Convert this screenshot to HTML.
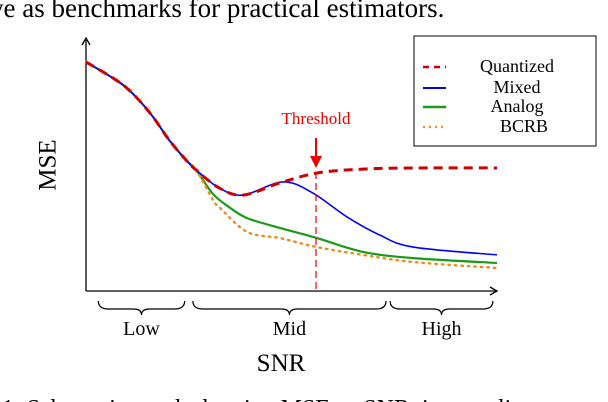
<!DOCTYPE html>
<html><head><meta charset="utf-8"><style>
html,body{margin:0;padding:0;background:#fff;}
svg{display:block;font-family:"Liberation Serif",serif;}
</style></head><body>
<svg id="chart" width="608" height="402" viewBox="0 0 608 402">
<text x="-10" y="17" font-size="27" fill="#000">ve as benchmarks for practical estimators.</text>
<text x="-10" y="416" font-size="24" fill="#000">. 1: Schematic graph showing MSE vs SNR, in a quali</text>
<g id="axes">
<line x1="86" y1="291" x2="86" y2="40" stroke="#000" stroke-width="1.3"/>
<path d="M82,45 L86,38 L90,45" fill="none" stroke="#000" stroke-width="1.3"/>
<line x1="86" y1="291" x2="496" y2="291" stroke="#000" stroke-width="1.3"/>
<path d="M490,287 L497,291 L490,295" fill="none" stroke="#000" stroke-width="1.3"/>
<text x="50" y="165" font-size="25" transform="rotate(-90 50 165)" text-anchor="middle" dominant-baseline="middle">MSE</text>
<text x="281" y="371" font-size="25" text-anchor="middle">SNR</text>
</g>
<g id="braces"></g>
<g id="series"></g>
<g>
<line x1="316" y1="172" x2="316" y2="291" stroke="#e00" stroke-width="1.2" stroke-dasharray="7,4"/>
<line x1="316" y1="138" x2="316" y2="162" stroke="#e00" stroke-width="2"/>
<path d="M310,156 L316,168 L322,156 Z" fill="#e00"/>
<text x="316" y="124" font-size="17" fill="#e00" text-anchor="middle">Threshold</text>
</g>
<g>
<rect x="414" y="36" width="182" height="110" fill="#fff" stroke="#000" stroke-width="1"/>
<line x1="423" y1="67" x2="446" y2="67" stroke="#c00" stroke-width="2.5" stroke-dasharray="6,5"/>
<text x="517" y="72" font-size="18" text-anchor="middle">Quantized</text>
<line x1="423" y1="88" x2="446" y2="88" stroke="#00f" stroke-width="2"/>
<text x="517" y="93" font-size="18" text-anchor="middle">Mixed</text>
<line x1="423" y1="107" x2="446" y2="107" stroke="#1a9a1a" stroke-width="2.5"/>
<text x="517" y="112" font-size="18" text-anchor="middle">Analog</text>
<line x1="423" y1="127" x2="446" y2="127" stroke="#f08a20" stroke-width="2.2" stroke-dasharray="2,4"/>
<text x="524" y="132" font-size="18" text-anchor="middle">BCRB</text>
</g>
</svg>
<script>
const snrQuantized=[0,8,12.2,16.3,20.2,24.3,26.8,32.4,38.2,47.2,56.2,67.4,81.3,100];
const mseQuantized=[99.6,90.9,84.3,75.7,65.7,57,52.6,44.8,41.7,47,51.3,53,53.5,53.5];
const snrMixed=[0,8,12.2,16.3,20.2,24.3,26.8,32.4,38.2,47.9,55.2,63.5,71.5,79.6,100];
const mseMixed=[99.6,90.9,84.3,75.7,65.7,57,52.6,44.8,41.7,47.4,42.6,32.2,24.3,19.1,15.7];
const snrAnalog=[0,8,12.2,16.3,20.2,24.3,26.8,30.9,34.8,39.2,47.2,56.2,67.4,79.6,100];
const mseAnalog=[99.6,90.9,84.3,75.7,65.7,57,52.6,42.2,36.5,31.7,27.4,23,17,14.3,12.2];
const snrBcrb=[0,8,12.2,16.3,20.2,24.3,26.8,30.9,32.4,39.2,47.2,56.2,67.4,79.6,100];
const mseBcrb=[99.6,90.9,84.3,75.7,65.7,57,52.6,39.6,36.5,25.7,23,19.1,15.7,12.6,10];
const regionLabels=["Low","Mid","High"];
const regionStart=[3,26,74];
const regionEnd=[24,73,99];

const NS="http://www.w3.org/2000/svg";
function xs(s){return 86+s*4.11;}
function ys(v){return 291-v*2.3;}
function pathFrom(sx,sy){
  const p=sx.map((s,i)=>[xs(s),ys(sy[i])]);
  let d="M"+p[0][0]+","+p[0][1];
  for(let i=0;i<p.length-1;i++){
    const p0=p[Math.max(0,i-1)],p1=p[i],p2=p[i+1],p3=p[Math.min(p.length-1,i+2)];
    const c1x=p1[0]+(p2[0]-p0[0])/6,c1y=p1[1]+(p2[1]-p0[1])/6;
    const c2x=p2[0]-(p3[0]-p1[0])/6,c2y=p2[1]-(p3[1]-p1[1])/6;
    d+=" C"+c1x+","+c1y+" "+c2x+","+c2y+" "+p2[0]+","+p2[1];
  }
  return d;
}
const g=document.getElementById("series");
function addSeries(sx,sy,color,w,dash,name){
  const el=document.createElementNS(NS,"path");
  el.setAttribute("d",pathFrom(sx,sy));
  el.setAttribute("fill","none");
  el.setAttribute("stroke",color);
  el.setAttribute("stroke-width",w);
  if(dash)el.setAttribute("stroke-dasharray",dash);
  el.setAttribute("stroke-linecap",dash==="1.5,5"?"round":"butt");
  
  
  g.appendChild(el);
}
addSeries(snrAnalog,mseAnalog,"#1a9a1a",2.2,null,"analog-line");
addSeries(snrBcrb,mseBcrb,"#f08a20",2.4,"1.5,5","bcrb-line");
addSeries(snrMixed,mseMixed,"#00f",1.6,null,"mixed-line");
addSeries(snrQuantized,mseQuantized,"#c00",3,"9,6","quantized-line");

const b=document.getElementById("braces");
regionLabels.forEach((lab,i)=>{
  const x1=xs(regionStart[i]),x2=xs(regionEnd[i]),m=(x1+x2)/2,y=301;
  const br=document.createElementNS(NS,"path");
  br.setAttribute("d",`M${x1},${y} Q${x1},${y+8} ${x1+10},${y+8} L${m-8},${y+8} Q${m},${y+8} ${m},${y+14} Q${m},${y+8} ${m+8},${y+8} L${x2-10},${y+8} Q${x2},${y+8} ${x2},${y}`);
  br.setAttribute("fill","none");
  br.setAttribute("stroke","#000");
  br.setAttribute("stroke-width","1.2");
  
  
  b.appendChild(br);
  const t=document.createElementNS(NS,"text");
  t.setAttribute("x",m);t.setAttribute("y",335);
  t.setAttribute("font-size","20");t.setAttribute("text-anchor","middle");
  t.textContent=lab;
  
  
  b.appendChild(t);
});
</script>
</body></html>
